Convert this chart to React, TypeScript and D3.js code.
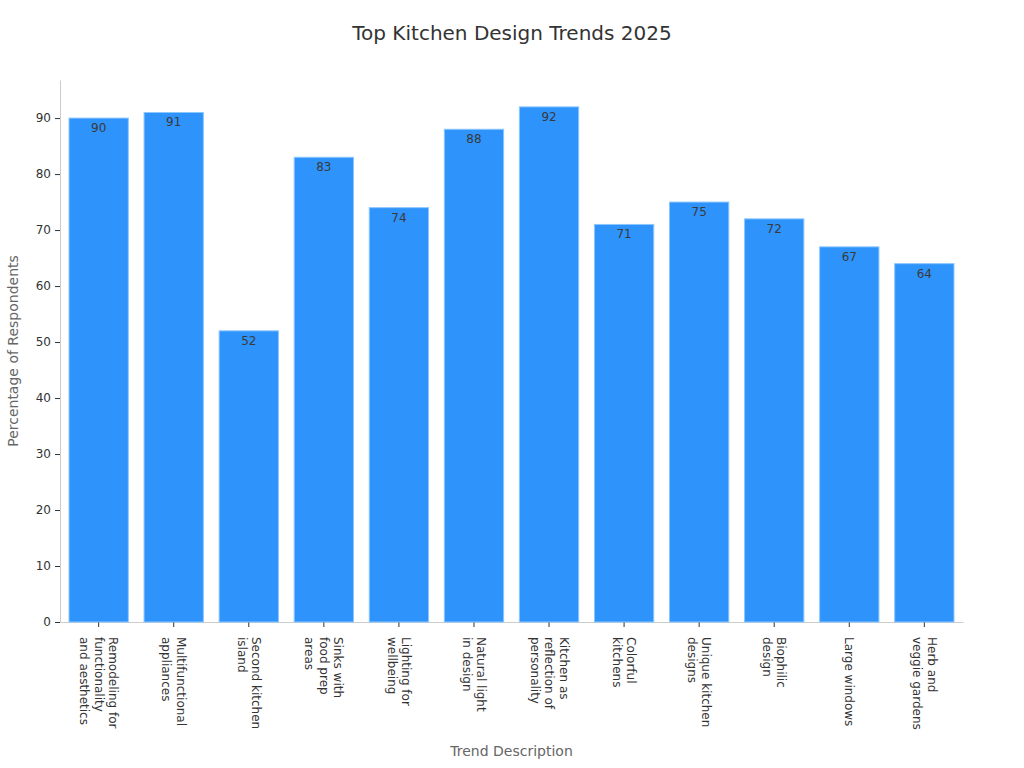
import React, { useRef, useEffect } from 'react';
import * as d3 from 'd3';

const trends: string[][] = [
  ['Remodeling for', 'functionality', 'and aesthetics'],
  ['Multifunctional', 'appliances'],
  ['Second kitchen', 'island'],
  ['Sinks with', 'food prep', 'areas'],
  ['Lighting for', 'wellbeing'],
  ['Natural light', 'in design'],
  ['Kitchen as', 'reflection of', 'personality'],
  ['Colorful', 'kitchens'],
  ['Unique kitchen', 'designs'],
  ['Biophilic', 'design'],
  ['Large windows'],
  ['Herb and', 'veggie gardens'],
];
const percentages: number[] = [90, 91, 52, 83, 74, 88, 92, 71, 75, 72, 67, 64];
const yTicks: number[] = [0, 10, 20, 30, 40, 50, 60, 70, 80, 90];

const W = 1024;
const H = 768;
const margin = { top: 80, right: 61, bottom: 146, left: 60 };
const FONT = '"DejaVu Sans", Verdana, sans-serif';

const App: React.FC = () => {
  const svgRef = useRef<SVGSVGElement | null>(null);

  useEffect(() => {
    if (!svgRef.current) return;
    const svg = d3.select(svgRef.current);
    svg.selectAll('*').remove();

    const innerWidth = W - margin.left - margin.right;
    const innerHeight = H - margin.top - margin.bottom;
    const keys = trends.map((t) => t.join(' '));

    const xScale = d3
      .scaleBand()
      .domain(keys)
      .range([0, innerWidth])
      .paddingInner(0.21)
      .paddingOuter(0.12);
    const yScale = d3.scaleLinear().domain([0, 96.8]).range([innerHeight, 0]);

    svg
      .append('text')
      .attr('x', W / 2)
      .attr('y', 40)
      .attr('text-anchor', 'middle')
      .style('font-size', '20px')
      .style('fill', '#333')
      .text('Top Kitchen Design Trends 2025');

    const g = svg.append('g').attr('transform', `translate(${margin.left}, ${margin.top})`);

    const yAxisG = g
      .append('g')
      .call(d3.axisLeft(yScale).tickValues(yTicks).tickSize(5).tickPadding(4).tickSizeOuter(0));
    yAxisG.select('.domain').attr('stroke', '#ccc');
    yAxisG.selectAll('.tick line').attr('stroke', '#333');
    yAxisG.selectAll('text').style('font-size', '12px').style('fill', '#333').style('font-family', FONT);

    const xAxisG = g
      .append('g')
      .attr('transform', `translate(0, ${innerHeight})`)
      .call(d3.axisBottom(xScale).tickSize(5).tickSizeOuter(0).tickFormat(() => ''));
    xAxisG.select('.domain').attr('stroke', '#ccc');
    xAxisG.selectAll('.tick line').attr('stroke', '#333');

    const lineH = 14.5;
    trends.forEach((lines, i) => {
      const cx = (xScale(keys[i]) || 0) + xScale.bandwidth() / 2;
      const n = lines.length;
      const t = g
        .append('text')
        .attr('transform', `translate(${cx}, ${innerHeight + 15}) rotate(90)`)
        .style('font-size', '12px')
        .style('fill', '#333');
      lines.forEach((line, j) => {
        t.append('tspan')
          .attr('x', 0)
          .attr('y', (j - (n - 1) / 2) * lineH + 4)
          .text(line);
      });
    });

    g.selectAll('.bar')
      .data(percentages)
      .enter()
      .append('rect')
      .attr('class', 'bar')
      .attr('x', (_d, i) => xScale(keys[i]) || 0)
      .attr('y', (d) => yScale(d))
      .attr('width', xScale.bandwidth())
      .attr('height', (d) => innerHeight - yScale(d))
      .attr('fill', '#2E93FA')
      .attr('stroke', '#8cc6ff')
      .attr('stroke-width', 1);

    g.selectAll('.val')
      .data(percentages)
      .enter()
      .append('text')
      .attr('class', 'val')
      .attr('x', (_d, i) => (xScale(keys[i]) || 0) + xScale.bandwidth() / 2)
      .attr('y', (d) => yScale(d) + 14)
      .attr('text-anchor', 'middle')
      .style('font-size', '12px')
      .style('fill', '#3a3a3a')
      .text((d) => d);

    svg
      .append('text')
      .attr('transform', 'rotate(-90)')
      .attr('x', -(margin.top + innerHeight / 2))
      .attr('y', 18)
      .attr('text-anchor', 'middle')
      .style('font-size', '14px')
      .style('fill', '#666')
      .text('Percentage of Respondents');

    svg
      .append('text')
      .attr('x', margin.left + innerWidth / 2)
      .attr('y', 756)
      .attr('text-anchor', 'middle')
      .style('font-size', '14px')
      .style('fill', '#666')
      .text('Trend Description');
  }, []);

  return (
    <svg
      ref={svgRef}
      width={W}
      height={H}
      style={{ display: 'block', position: 'absolute', left: 0, top: 0, fontFamily: FONT, background: '#fff' }}
    />
  );
};

export default App;
